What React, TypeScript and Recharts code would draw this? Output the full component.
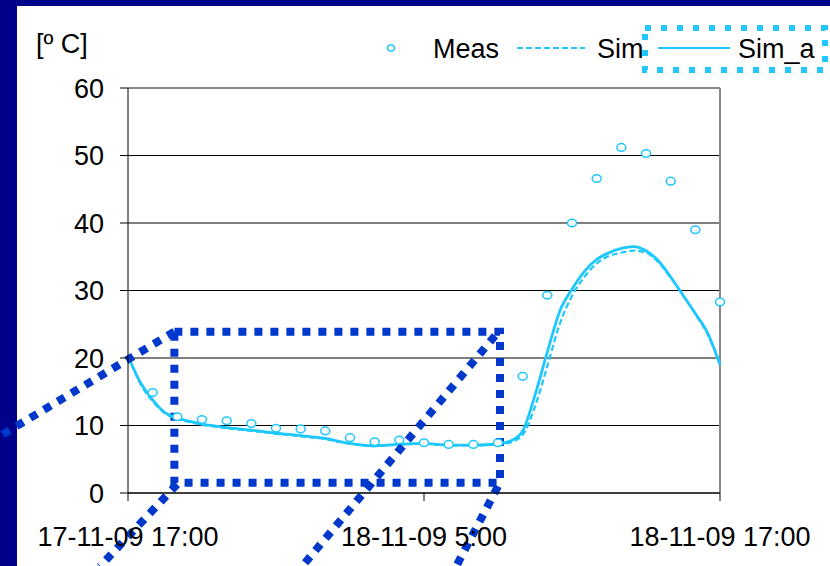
import {
  CartesianGrid,
  ComposedChart,
  Line,
  ReferenceArea,
  ReferenceLine,
  XAxis,
  YAxis,
} from "recharts";

// hours since 17-11-09 17:00
const hours = [
  0, 0.5, 1, 1.5, 2, 2.5, 3, 3.5, 4, 4.5, 5, 5.5, 6, 6.5, 7, 7.5, 8, 8.5, 9,
  9.5, 10, 10.5, 11, 11.5, 12, 12.5, 13, 13.5, 14, 14.5, 15, 15.5, 16, 16.5, 17,
  17.5, 18, 18.5, 19, 19.5, 20, 20.5, 21, 21.5, 22, 22.5, 23, 23.5, 24,
];

const simA = [
  20.3, 16.4, 13.8, 11.9, 11.1, 10.6, 10.2, 9.95, 9.7, 9.5, 9.3, 9.1, 8.85, 8.7,
  8.5, 8.3, 8.1, 7.7, 7.35, 7.1, 7.0, 7.1, 7.2, 7.3, 7.35, 7.2, 7.1, 7.1, 7.1,
  7.15, 7.3, 7.7, 9.2, 14.5, 20.9, 26.9, 30.2, 32.8, 34.6, 35.6, 36.25, 36.5,
  35.9, 34.4, 32.0, 29.3, 26.6, 23.7, 19.0,
];

const sim = [
  20.3, 16.2, 13.6, 11.8, 11.0, 10.5, 10.1, 9.85, 9.6, 9.4, 9.2, 9.0, 8.75, 8.6,
  8.4, 8.2, 8.0, 7.6, 7.3, 7.05, 6.95, 7.05, 7.15, 7.25, 7.3, 7.15, 7.05, 7.05,
  7.05, 7.1, 7.2, 7.5, 8.6, 12.8, 18.8, 25.0, 29.2, 32.0, 34.0, 35.1, 35.6, 35.9,
  35.6, 34.2, 31.9, 29.3, 26.5, 23.5, 19.3,
];

const measHours = [
  1, 2, 3, 4, 5, 6, 7, 8, 9, 10, 11, 12, 13, 14, 15, 16, 17, 18, 19, 20, 21, 22,
  23, 24,
];
const meas = [
  14.9, 11.3, 10.9, 10.7, 10.3, 9.6, 9.5, 9.2, 8.2, 7.6, 7.85, 7.45, 7.2, 7.2,
  7.45, 17.3, 29.3, 40.0, 46.6, 51.2, 50.3, 46.2, 39.0, 28.3,
];

const xTicks = [0, 12, 24];
const xTickLabels = ["17-11-09 17:00", "18-11-09 5:00", "18-11-09 17:00"];
const yTicks = [0, 10, 20, 30, 40, 50, 60];

const CYAN = "#1ec8ff";
const NAVY = "#01018a";
const CALLOUT = "#0038cc";
const FONT = "'Liberation Sans', Arial, sans-serif";

const data = hours.map((t, i) => {
  const m = measHours.indexOf(t);
  return { t, simA: simA[i], sim: sim[i], meas: m >= 0 ? meas[m] : null };
});

const MeasDot = (props: any) => {
  const { cx, cy, value } = props;
  if (value == null || cy == null || isNaN(cy)) return <g />;
  return (
    <ellipse
      cx={cx}
      cy={cy}
      rx={4.5}
      ry={3.8}
      fill="#fff"
      stroke={CYAN}
      strokeWidth={1.5}
    />
  );
};

const callout = {
  stroke: CALLOUT,
  strokeWidth: 8,
  strokeDasharray: "8 8",
};

export default function App() {
  return (
    <div
      style={{
        position: "absolute",
        left: 0,
        top: 0,
        width: 830,
        height: 566,
        background: NAVY,
        overflow: "hidden",
      }}
    >
      <div
        style={{
          position: "absolute",
          left: 17,
          top: 6,
          right: 0,
          bottom: 0,
          background: "#fff",
        }}
      />
      <div style={{ position: "absolute", left: 0, top: 0 }}>
        <ComposedChart
          width={830}
          height={566}
          data={data}
          margin={{ top: 88, right: 110, left: 0, bottom: 0 }}
        >
          <CartesianGrid vertical={false} stroke="#000" strokeWidth={1.2} />
          <XAxis
            dataKey="t"
            type="number"
            domain={[0, 24]}
            ticks={xTicks}
            interval={0}
            tickFormatter={(v: number) => xTickLabels[xTicks.indexOf(v)] ?? ""}
            height={73}
            tickSize={8}
            tickMargin={26}
            stroke="#000"
            tick={{ fontFamily: FONT, fontSize: 27, fill: "#000" }}
          />
          <YAxis
            domain={[0, 60]}
            ticks={yTicks}
            interval={0}
            width={128}
            tickSize={8}
            tickMargin={16}
            stroke="#000"
            tick={{ fontFamily: FONT, fontSize: 27, fill: "#000" }}
          />
          <ReferenceLine y={60} stroke="#888" strokeWidth={2} />
          <ReferenceLine x={24} stroke="#888" strokeWidth={2} />
          <Line
            type="monotone"
            dataKey="sim"
            name="Sim"
            stroke={CYAN}
            strokeWidth={2.2}
            strokeDasharray="6 3"
            dot={false}
            isAnimationActive={false}
          />
          <Line
            type="monotone"
            dataKey="simA"
            name="Sim_a"
            stroke={CYAN}
            strokeWidth={2.8}
            dot={false}
            isAnimationActive={false}
          />
          <Line
            dataKey="meas"
            name="Meas"
            stroke="none"
            dot={<MeasDot />}
            activeDot={false}
            isAnimationActive={false}
          />
          {/* zoom call-out */}
          <ReferenceArea
            x1={1.88}
            x2={15.08}
            y1={1.53}
            y2={23.9}
            fill="none"
            ifOverflow="visible"
            {...callout}
          />
          <ReferenceLine
            segment={[
              { x: 1.88, y: 23.9 },
              { x: -5.3, y: 8.2 },
            ]}
            ifOverflow="visible"
            {...callout}
          />
          <ReferenceLine
            segment={[
              { x: 1.99, y: 1.3 },
              { x: -1.14, y: -10.9 },
            ]}
            ifOverflow="visible"
            {...callout}
          />
          <ReferenceLine
            segment={[
              { x: 14.88, y: 23.3 },
              { x: 7.05, y: -10.9 },
            ]}
            ifOverflow="visible"
            {...callout}
          />
          <ReferenceLine
            segment={[
              { x: 15.0, y: 1.0 },
              { x: 13.3, y: -10.9 },
            ]}
            ifOverflow="visible"
            {...callout}
          />
        </ComposedChart>
      </div>
      <svg
        width={830}
        height={100}
        style={{ position: "absolute", left: 0, top: 0, pointerEvents: "none" }}
        fontFamily={FONT}
        fontSize={27}
      >
        <text x={36} y={53} fill="#000">
          [º C]
        </text>
        <ellipse cx={391} cy={48} rx={3.5} ry={3} fill="#fff" stroke={CYAN} strokeWidth={1.5} />
        <text x={433} y={58} fill="#000">
          Meas
        </text>
        <line x1={517} y1={48} x2={585} y2={48} stroke={CYAN} strokeWidth={2} strokeDasharray="6 3" />
        <text x={597} y={58} fill="#000">
          Sim
        </text>
        <rect
          x={645}
          y={28}
          width={180}
          height={42}
          fill="none"
          stroke={CYAN}
          strokeWidth={6}
          strokeDasharray="6 10"
        />
        <line x1={658} y1={48} x2={730} y2={48} stroke={CYAN} strokeWidth={2} />
        <text x={738} y={58} fill="#000">
          Sim_a
        </text>
      </svg>
    </div>
  );
}
